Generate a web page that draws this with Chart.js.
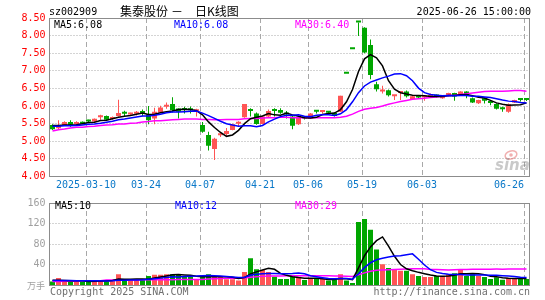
<!DOCTYPE html>
<html>
<head>
<meta charset="utf-8">
<script src="https://cdn.jsdelivr.net/npm/chart.js@4.4.1/dist/chart.umd.min.js"></script>
<style>
html,body{margin:0;padding:0;background:#fff;}
#wrap{position:relative;width:545px;height:300px;overflow:hidden;background:#fff;}
#pc{position:absolute;left:0;top:0;}
#vc{position:absolute;left:0;top:193px;}
</style>
</head>
<body>
<div id="wrap">
<canvas id="pc" width="545" height="193"></canvas>
<canvas id="vc" width="545" height="107"></canvas>
</div>
<script>
// ---------- data ----------
const dates = ['2025-02-28','2025-03-03','2025-03-04','2025-03-05','2025-03-06','2025-03-07','2025-03-10','2025-03-11','2025-03-12','2025-03-13',
'2025-03-14','2025-03-17','2025-03-18','2025-03-19','2025-03-20','2025-03-21','2025-03-24','2025-03-25','2025-03-26','2025-03-27',
'2025-03-28','2025-03-31','2025-04-01','2025-04-02','2025-04-03','2025-04-07','2025-04-08','2025-04-09','2025-04-10','2025-04-11',
'2025-04-14','2025-04-15','2025-04-16','2025-04-17','2025-04-18','2025-04-21','2025-04-22','2025-04-23','2025-04-24','2025-04-25',
'2025-04-28','2025-04-29','2025-04-30','2025-05-06','2025-05-07','2025-05-08','2025-05-09','2025-05-12','2025-05-13','2025-05-14',
'2025-05-15','2025-05-16','2025-05-19','2025-05-20','2025-05-21','2025-05-22','2025-05-23','2025-05-26','2025-05-27','2025-05-28',
'2025-05-29','2025-05-30','2025-06-03','2025-06-04','2025-06-05','2025-06-06','2025-06-09','2025-06-10','2025-06-11','2025-06-12',
'2025-06-13','2025-06-16','2025-06-17','2025-06-18','2025-06-19','2025-06-20','2025-06-23','2025-06-24','2025-06-25','2025-06-26'];

const open  = [5.46,5.37,5.46,5.55,5.49,5.54,5.58,5.56,5.68,5.72, 5.63,5.72,5.79,5.76,5.78,5.81,5.75,5.65,5.82,5.98,
               6.06,5.93,5.90,5.90,5.85,5.46,5.18,4.78,5.17,5.21, 5.32,5.50,5.68,5.87,5.79,5.49,5.70,5.87,5.89,5.77,
               5.70,5.48,5.66,5.65,5.85,5.83,5.82,5.80,5.84,6.92, 7.61,8.37,8.22,7.73,6.62,6.41,6.45,6.28,6.37,6.41,
               6.20,6.28,6.24,6.26,6.30,6.22,6.28,6.37,6.31,6.41, 6.22,6.08,6.22,6.11,6.06,5.93,5.84,6.10,6.18,6.18];
const close = [5.34,5.44,5.55,5.47,5.55,5.50,5.56,5.64,5.70,5.61, 5.67,5.80,5.78,5.78,5.83,5.80,5.60,5.84,5.96,5.99,
               5.89,5.84,5.89,5.88,5.86,5.27,4.87,5.07,5.18,5.29, 5.48,5.51,6.06,5.86,5.49,5.70,5.86,5.86,5.81,5.76,
               5.44,5.68,5.65,5.79,5.84,5.84,5.81,5.72,6.29,6.92, 7.61,8.37,7.52,6.88,6.48,6.43,6.31,6.30,6.38,6.28,
               6.28,6.24,6.26,6.30,6.27,6.29,6.37,6.27,6.41,6.31, 6.10,6.17,6.15,6.09,5.92,5.91,6.05,6.17,6.17,6.17];
const high  = [5.48,5.60,5.57,5.60,5.57,5.56,5.61,5.65,5.75,5.73, 5.70,6.18,5.87,5.81,5.86,5.90,6.00,5.95,6.01,6.10,
               6.25,5.93,5.98,5.99,5.92,5.55,5.27,5.10,5.27,5.38, 5.50,5.57,6.06,5.94,5.82,5.72,5.90,5.94,5.94,5.86,
               5.72,5.70,5.68,5.80,5.89,5.89,5.86,5.82,6.29,6.92, 7.61,8.37,8.24,7.89,6.69,6.58,6.47,6.30,6.39,6.44,
               6.29,6.31,6.31,6.36,6.33,6.30,6.38,6.38,6.42,6.42, 6.24,6.18,6.25,6.17,6.08,5.98,6.07,6.18,6.20,6.20];
const low   = [5.32,5.35,5.45,5.41,5.47,5.48,5.52,5.55,5.61,5.60, 5.61,5.70,5.70,5.73,5.73,5.71,5.48,5.48,5.80,5.92,
               5.82,5.65,5.79,5.79,5.70,5.24,4.74,4.47,5.12,5.14, 5.31,5.42,5.67,5.70,5.47,5.48,5.69,5.70,5.78,5.65,
               5.34,5.46,5.62,5.64,5.79,5.79,5.77,5.70,5.83,6.92, 7.61,7.99,7.50,6.76,6.41,6.36,6.27,6.17,6.17,6.24,
               6.19,6.21,6.15,6.24,6.24,6.21,6.27,6.15,6.30,6.22, 6.09,6.06,6.07,6.02,5.90,5.84,5.81,6.09,6.13,6.14];

const ma5  = [5.45,5.45,5.46,5.46,5.47,5.50,5.53,5.54,5.59,5.60, 5.64,5.68,5.71,5.73,5.77,5.80,5.76,5.77,5.81,5.84,
              5.86,5.90,5.91,5.90,5.87,5.75,5.55,5.39,5.25,5.14, 5.18,5.31,5.50,5.64,5.68,5.72,5.79,5.75,5.74,5.80,
              5.75,5.71,5.67,5.66,5.68,5.76,5.79,5.80,5.90,6.12, 6.47,6.98,7.34,7.46,7.37,7.14,6.72,6.48,6.38,6.34,
              6.31,6.30,6.29,6.27,6.27,6.27,6.30,6.30,6.32,6.33, 6.29,6.25,6.23,6.16,6.09,6.05,6.02,6.03,6.04,6.09];
const ma10 = [5.43,5.43,5.44,5.44,5.45,5.46,5.48,5.49,5.51,5.54, 5.57,5.61,5.63,5.66,5.69,5.72,5.72,5.74,5.77,5.81,
              5.83,5.83,5.84,5.85,5.86,5.80,5.73,5.65,5.57,5.50, 5.46,5.43,5.44,5.44,5.41,5.45,5.55,5.63,5.70,5.74,
              5.74,5.75,5.71,5.70,5.74,5.75,5.75,5.73,5.78,5.90, 6.12,6.38,6.57,6.68,6.74,6.80,6.85,6.91,6.92,6.86,
              6.72,6.51,6.38,6.33,6.31,6.29,6.30,6.29,6.30,6.30, 6.28,6.28,6.26,6.24,6.21,6.17,6.14,6.13,6.10,6.09];
const ma30 = [5.29,5.33,5.35,5.38,5.40,5.40,5.42,5.43,5.45,5.46, 5.47,5.49,5.49,5.51,5.52,5.55,5.56,5.58,5.58,5.60,
              5.61,5.62,5.63,5.63,5.63,5.62,5.62,5.61,5.61,5.62, 5.62,5.62,5.64,5.65,5.65,5.66,5.67,5.67,5.68,5.68,
              5.67,5.67,5.67,5.67,5.67,5.67,5.67,5.67,5.68,5.71, 5.77,5.85,5.91,5.94,5.96,6.00,6.05,6.09,6.13,6.16,
              6.19,6.21,6.22,6.24,6.26,6.28,6.30,6.31,6.33,6.35, 6.37,6.39,6.41,6.42,6.42,6.42,6.43,6.44,6.44,6.42];

const volume  = [7.6,14.6,7.6,7.6,7.6,7.6,7.6,10.8,10.8,7.6, 10.8,22,9.5,10.8,10.8,10.8,18.4,21,21,22,
                 22,21,17,17,12,17,22,17,17,12, 12,9.5,26,52.7,31.7,30,26,17,12.7,12.7,
                 17,17,10.8,12.7,12.7,12.7,9.5,10.8,22,9.5, 5,123,129,108,70,41,34,30,28.6,28.6,
                 22,18.5,16.6,16.6,18.5,18.5,22,24,30,18.5, 22,18.5,16.6,12.8,16,11,14.7,14.7,14.7,12.8];
const volMa5  = [10.2,10,9.8,9.4,9.0,9.0,7.6,8.2,8.9,8.9, 9.5,12.4,12.1,12.1,12.8,12.8,12.1,14.4,16.4,18.6,
                 20.9,21.4,20.6,19.8,17.8,16.8,17,17,17,17, 16,13.5,15.3,22.4,26.4,30,33.3,31.5,23.5,19.7,
                 17.1,15.3,14.0,14.0,14.0,13.2,11.7,11.7,13.5,12.9, 11.4,34.1,57.7,74.9,87,94.2,76.4,56.6,40.7,32.4,
                 28.6,25.5,22.9,20.5,18.4,17.7,18.4,19.9,22.6,22.6, 23.3,22.6,21.1,17.7,17.2,15,14.2,13.8,14.2,13.6];
const volMa10 = [9.6,9.6,9.5,9.5,9.4,9.3,9.2,9.1,9.0,8.9, 9.3,10.0,10.2,10.5,10.8,11.2,12.2,13.3,14.3,15.7,
                 16.8,16.7,17.5,18.1,18.2,18.8,19.2,18.8,18.4,17.4, 16.4,15.3,16.2,19.7,21.7,23.0,23.4,23.4,23.0,23.0,
                 23.5,24.3,22.8,18.8,16.9,15.1,13.5,12.9,13.8,13.5, 12.3,22.9,34.7,44.2,50.0,52.8,55.2,57.2,57.8,59.7,
                 61.4,51.0,39.7,30.6,25.4,23.2,22.0,21.4,21.5,20.5, 20.5,20.5,20.5,20.1,19.9,19.1,18.4,17.5,16.0,15.4];
const volMa30 = [7.8,7.8,8.3,8.3,8.3,9.3,9.3,9.3,9.3,10.5, 10.5,10.5,10.5,10.5,10.5,11,11,11,11,11,
                 11,11.8,11.8,11.8,11.8,11.8,12.5,13,13.5,14.0, 14.2,14.0,14.6,16.1,16.9,17.7,18.3,18.5,18.5,18.7,
                 18.9,18.8,18.8,18.9,18.9,19.0,18.7,18.4,18.4,18.0, 17.4,20.8,24.5,27.6,29.5,30.3,30.7,31.1,31.5,32.1,
                 32.4,32.7,32.4,31.2,30.8,30.4,30.2,30.5,31.0,31.2, 31.4,31.5,31.6,31.7,31.8,31.7,31.9,32.0,31.8,31.9];

const axisDates = ['2025-03-10','2025-03-24','2025-04-07','2025-04-21','2025-05-06','2025-05-19','2025-06-03','2025-06-26'];
const axisText  = ['2025-03-10','03-24','04-07','04-21','05-06','05-19','06-03','06-26'];
const priceTicks = [4.0,4.5,5.0,5.5,6.0,6.5,7.0,7.5,8.0,8.5];
const volTicks = [0,40,80,120,160];

// ---------- styling ----------
const RED = '#ff5555', GREEN = '#00a600';
const MONO = 'DejaVu Sans Mono';
const candleColors = close.map((c, i) => c > open[i] ? RED : GREEN);

Chart.defaults.font.family = MONO;
Chart.defaults.font.size = 10;

function drawGrid(chart, ticks) {
  const {ctx, chartArea: a, scales: {x, y}} = chart;
  ctx.save();
  ctx.lineWidth = 1;
  ctx.strokeStyle = '#a8a8a8';
  ctx.setLineDash([1, 2]);
  ticks.forEach(v => {
    if (v === y.min || v === y.max) return;
    const py = Math.floor(y.getPixelForValue(v)) + 0.5;
    ctx.beginPath(); ctx.moveTo(a.left, py); ctx.lineTo(a.right, py); ctx.stroke();
  });
  ctx.setLineDash([5, 3]);
  axisDates.forEach(d => {
    const i = dates.indexOf(d);
    const px = Math.floor(x.getPixelForValue(i) - 2.5) + 0.5;
    ctx.beginPath(); ctx.moveTo(px, a.top); ctx.lineTo(px, a.bottom); ctx.stroke();
  });
  ctx.restore();
}
function drawFrame(chart) {
  const {ctx, chartArea: a} = chart;
  ctx.save();
  ctx.strokeStyle = '#8c8c8c';
  ctx.lineWidth = 1;
  ctx.setLineDash([]);
  const l = Math.floor(a.left) + 0.5, t = Math.floor(a.top) + 0.5;
  const r = Math.floor(a.right) + 0.5, b = Math.floor(a.bottom) + 0.5;
  ctx.strokeRect(l, t, r - l, b - t);
  ctx.restore();
}
function txt(ctx, s, x, y, color, font, align) {
  ctx.font = font; ctx.fillStyle = color; ctx.textAlign = align || 'left'; ctx.textBaseline = 'middle';
  ctx.fillText(s, x, y);
}

const priceDeco = {
  id: 'priceDeco',
  beforeDatasetsDraw(chart) { drawGrid(chart, priceTicks); },
  afterDraw(chart) {
    const ctx = chart.ctx;
    drawFrame(chart);
    ctx.save();
    const f = '10px "' + MONO + '"';
    txt(ctx, 'sz002909', 49, 12, '#000', f);
    const cjk = '12px "Noto Sans CJK SC"';
    txt(ctx, '集泰股份', 120, 11, '#000', cjk);
    txt(ctx, '－', 171, 11, '#000', cjk);
    txt(ctx, '日K线图', 195, 11, '#000', cjk);
    txt(ctx, '2025-06-26 15:00:00', 531, 12, '#000', f, 'right');
    txt(ctx, 'MA5:6.08', 54, 25, '#000', f);
    txt(ctx, 'MA10:6.08', 174, 25, '#0000ff', f);
    txt(ctx, 'MA30:6.40', 295, 25, '#ff00ff', f);
    // sina watermark
    ctx.globalAlpha = 0.45;
    ctx.strokeStyle = '#e05050'; ctx.lineWidth = 1.5;
    ctx.beginPath(); ctx.ellipse(511, 155, 6, 4, -0.3, 0, Math.PI * 2); ctx.stroke();
    ctx.fillStyle = '#e05050';
    ctx.beginPath(); ctx.arc(511, 155, 1.8, 0, Math.PI * 2); ctx.fill();
    ctx.font = 'italic bold 15px "DejaVu Sans"';
    ctx.fillStyle = '#888'; ctx.textAlign = 'left'; ctx.textBaseline = 'alphabetic';
    ctx.fillText('sina', 495, 170);
    ctx.restore();
  }
};

const volDeco = {
  id: 'volDeco',
  beforeDatasetsDraw(chart) { drawGrid(chart, volTicks); },
  afterDraw(chart) {
    const ctx = chart.ctx;
    drawFrame(chart);
    ctx.save();
    const f = '10px "' + MONO + '"';
    txt(ctx, 'MA5:10', 55, 13, '#000', f);
    txt(ctx, 'MA10:12', 175, 13, '#0000ff', f);
    txt(ctx, 'MA30:29', 295, 13, '#ff00ff', f);
    txt(ctx, '万手', 45, 93, '#a0a0a0', '9px "Noto Sans CJK SC"', 'right');
    txt(ctx, 'Copyright 2025 SINA.COM', 50, 99, '#707070', f);
    txt(ctx, 'http://finance.sina.com.cn', 530, 99, '#707070', f, 'right');
    ctx.restore();
  }
};

const lineDs = (data, color, order) => ({
  type: 'line', data, borderColor: color, borderWidth: 1.5, pointRadius: 0,
  tension: 0, fill: false, order
});

// ---------- price chart ----------
new Chart(document.getElementById('pc'), {
  type: 'bar',
  data: {
    labels: dates,
    datasets: [
      { data: low.map((l, i) => [l, high[i]]), backgroundColor: candleColors, barThickness: 1,
        grouped: false, order: 3, inflateAmount: 0, borderWidth: 0 },
      { data: open.map((o, i) => [o, close[i]]), backgroundColor: candleColors, barThickness: 5,
        minBarLength: 2, grouped: false, order: 2, inflateAmount: 0, borderWidth: 0 },
      lineDs(ma30, '#ff00ff', 1),
      lineDs(ma10, '#0000ff', 0),
      lineDs(ma5, '#000000', 0)
    ]
  },
  options: {
    responsive: false, animation: false, devicePixelRatio: 1,
    layout: { padding: { top: 18, right: 15.5, left: 0, bottom: 0 } },
    plugins: { legend: { display: false }, tooltip: { enabled: false } },
    scales: {
      x: {
        type: 'category', offset: true,
        grid: { display: false, drawTicks: false }, border: { display: false },
        ticks: {
          autoSkip: false, maxRotation: 0, minRotation: 0, align: 'inner', labelOffset: -2.5,
          padding: 3, color: '#0a78c8', font: { family: MONO, size: 10 },
          callback: (v, i) => { const k = axisDates.indexOf(dates[i]); return k >= 0 ? axisText[k] : ''; }
        },
        afterFit: s => { s.height = 16.5; }
      },
      y: {
        min: 4, max: 8.5,
        grid: { display: false, drawTicks: false }, border: { display: false },
        afterBuildTicks: s => { s.ticks = priceTicks.map(v => ({ value: v })); },
        ticks: { padding: 4, color: '#ff0000', font: { family: MONO, size: 10 }, callback: v => Number(v).toFixed(2) },
        afterFit: s => { s.width = 49.5; }
      }
    }
  },
  plugins: [priceDeco]
});

// ---------- volume chart ----------
new Chart(document.getElementById('vc'), {
  type: 'bar',
  data: {
    labels: dates,
    datasets: [
      { data: volume, backgroundColor: candleColors, barThickness: 5, order: 2, inflateAmount: 0, borderWidth: 0 },
      lineDs(volMa30, '#ff00ff', 1),
      lineDs(volMa10, '#0000ff', 0),
      lineDs(volMa5, '#000000', 0)
    ]
  },
  options: {
    responsive: false, animation: false, devicePixelRatio: 1,
    layout: { padding: { top: 8, right: 15.5, left: 0, bottom: 14.5 } },
    plugins: { legend: { display: false }, tooltip: { enabled: false } },
    scales: {
      x: { type: 'category', offset: true, display: false },
      y: {
        min: 0, max: 160,
        grid: { display: false, drawTicks: false }, border: { display: false },
        afterBuildTicks: s => { s.ticks = volTicks.map(v => ({ value: v })); },
        ticks: { padding: 4, color: '#a0a0a0', font: { family: MONO, size: 10 }, callback: v => (v === 0 ? '' : String(v)) },
        afterFit: s => { s.width = 49.5; }
      }
    }
  },
  plugins: [volDeco]
});
</script>
</body>
</html>
